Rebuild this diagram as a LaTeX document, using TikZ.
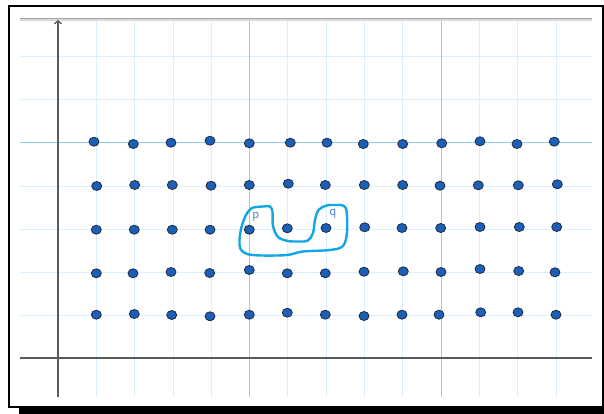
\documentclass[tikz,border=0pt]{standalone}
\usepackage{tikz}
\usetikzlibrary{positioning, shapes.geometric, arrows.meta, calc}

\definecolor{minorgrid}{HTML}{DAF0FC}
\definecolor{majorgrid}{HTML}{8FD0F2}
\definecolor{dotfill}{HTML}{1B5FB8}
\definecolor{dotedge}{HTML}{1E2C40}
\definecolor{loopblue}{HTML}{12A6E6}
\definecolor{labelblue}{HTML}{4A80D2}
\definecolor{axisgray}{HTML}{5A5A5A}

\tikzset{
  dot/.style={ellipse, draw=dotedge, fill=dotfill, line width=0.8pt, minimum width=10pt, minimum height=9pt, inner sep=0pt},
  minorline/.style={draw=minorgrid, line width=1pt},
  majorline/.style={draw=majorgrid, line width=1pt},
  axisline/.style={draw=axisgray, line width=1.3pt},
  ptlabel/.style={text=labelblue, font=\fontsize{13.5}{15}\sffamily, inner sep=0pt}
}

\begin{document}
\begin{tikzpicture}[x=1pt, y=-1pt, >={Straight Barb[length=3pt, width=7pt]}]
        % Page
        \fill[white] (0,0) rectangle (604,414);
        \useasboundingbox (0,0) rectangle (604,414);

        % Grid paper
        \foreach \gx in {96.3,134.7,173,211.3,287.7,326,364.3,402.7,479.3,517.7,556}
          \draw [minorline] (\gx,19) -- (\gx,397);
        \foreach \gy in {57,100,186,229,272,315}
          \draw [minorline] (20,\gy) -- (592,\gy);
        \draw [majorline] (249.5,19) -- (249.5,397);
        \draw [majorline] (441,19) -- (441,397);
        \draw [majorline] (20,143) -- (592,143);

        % Top edge of the sheet
        \draw [draw=gray!30, line width=3pt] (20,20) -- (592,20);
        \draw [draw=gray!70, line width=1.2pt] (20,18.5) -- (592,18.5);

        % Axes
        \coordinate (ybottom) at (58,397);
        \coordinate (ytop) at (58,20);
        \coordinate (xleft) at (20,358);
        \coordinate (xright) at (592,358);
        \draw [axisline] (xleft) -- (xright);
        \draw [axisline, ->] (ybottom) -- (ytop);

        % Dots
        \foreach \x/\y [count=\c] in {94/141.7, 133.3/144, 171/142.7, 210/140.7, 249.3/143.3, 290.3/142.7, 327/142.7, 363.3/144, 402.7/144, 441.7/143.3, 480/141.3, 517/144, 554.3/141.7}
          \node (d1-\c) [dot] at (\x,\y) {};
        \foreach \x/\y [count=\c] in {96.7/186, 134.7/185, 172.3/185, 211/185.7, 249.3/185, 288.3/183.7, 325.3/185, 364.3/185, 402.7/185, 440/185.7, 478.3/185.3, 518.3/185.3, 557.3/184.3}
          \node (d2-\c) [dot] at (\x,\y) {};
        \foreach \x/\y [count=\c] in {96.3/229.7, 134.3/229.7, 172.3/229.7, 210/229.7, 249.3/229.7, 287.3/228.3, 326/228, 364.7/227.3, 402/228, 440.7/228, 480/227, 519.3/227, 556.7/227}
          \node (d3-\c) [dot] at (\x,\y) {};
        \foreach \x/\y [count=\c] in {96.3/273.3, 133/273.3, 171/272, 209.7/273, 249.3/270, 287.3/273.3, 325.3/273.3, 364/271.7, 403.3/271.3, 441/272, 480/269, 518.7/271, 555/272.3}
          \node (d4-\c) [dot] at (\x,\y) {};
        \foreach \x/\y [count=\c] in {96.3/314.7, 134.3/314, 171.7/315, 210/316.3, 249.3/314.7, 287.3/312.7, 325.3/314.7, 364/316, 402/314.7, 439/314.7, 480.7/312.3, 518/312.3, 556/314.7}
          \node (d5-\c) [dot] at (\x,\y) {};

        % Loop round p and q
        \draw [draw=loopblue, line width=2.4pt, line join=round]
          plot [smooth cycle, tension=0.55] coordinates {
            (252,208) (263,206.5) (270,206.5) (272.5,212) (273,226) (278,237) (288,241)
            (300,241.5) (308,240.5) (313,233) (315,220) (318.5,210) (326.5,205.5) (336,205)
            (343,205.5) (346.5,211) (347,232) (343,246) (330,250) (303,251.5) (287,255)
            (262,255.5) (247,254) (240.5,249) (239.5,240) (241.5,227) (246,215)};

        % Labels
        \node (plabel) [ptlabel] at ($(d3-5)+(6.5,-13)$) {p};
        \node (qlabel) [ptlabel] at ($(d3-7)+(7,-14)$) {q};

        % Frame with shadow
        \fill [black] (19,407.5) rectangle (604,414);
        \draw [black, line width=2pt] (9,6) rectangle (602.5,407);
    \end{tikzpicture}
\end{document}
